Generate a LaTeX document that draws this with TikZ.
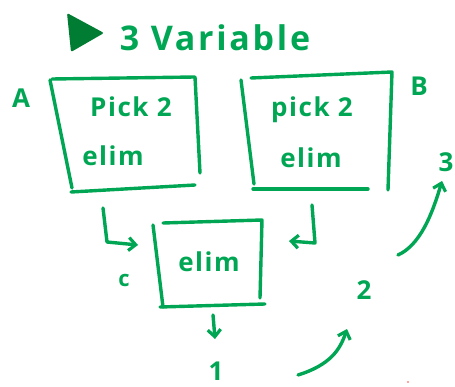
\documentclass[tikz,border=0pt]{standalone}
\usepackage{fontspec}
\setmainfont{Open Sans}
\usetikzlibrary{arrows.meta}
\definecolor{pen}{RGB}{0,166,84}
\definecolor{penDark}{RGB}{0,125,50}
\begin{document}
\begin{tikzpicture}[x=1pt,y=-1pt,
  ink/.style={draw=pen,line width=3.4pt,line cap=round,line join=round},
  inkarrow/.style={ink,-{Straight Barb[length=7pt,width=13pt,line width=3.2pt]}},
  hand/.style={text=pen,inner sep=0pt,anchor=base},
  big/.style={hand,font=\fontsize{34}{34}\selectfont\bfseries\addfontfeature{LetterSpace=8}},
  mid/.style={hand,font=\fontsize{26}{26}\selectfont\bfseries\addfontfeature{LetterSpace=6}},
  small/.style={hand,font=\fontsize{22}{22}\selectfont\bfseries}]
\useasboundingbox (0,0) rectangle (455,387);
\fill[white] (0,0) rectangle (455,387);

% heading
\fill[penDark,rounded corners=2pt] (67,13) -- (104,33) -- (71,52) -- cycle;
\node[big] (title) at (215,51) {3 Variable};

% box A
\draw[ink] (50,80) -- (72,188);
\draw[ink] (52,79) -- (195,77) -- (200,173);
\draw[ink] (71,192) -- (195,185);
\node[mid] (labelA) at (21,108) {A};
\node[mid] (pickA) at (131,117) {Pick 2};
\node[mid] (elimA) at (113,166) {elim};

% box B
\draw[ink] (241,80) -- (254,184);
\draw[ink] (251,78) -- (392,72) -- (388,190);
\draw[ink] (253,189) -- (368,189);
\node[mid] (labelB) at (419,96) {B};
\node[mid] (pickB) at (312,117) {pick 2};
\node[mid] (elimB) at (311,168) {elim};

% box C
\draw[ink] (153,225) -- (163,307);
\draw[ink] (163,223) -- (262,220) -- (260,298);
\draw[ink] (160,307) -- (265,304);
\node[mid] (elimC) at (209,272) {elim};
\node[small] (labelC) at (124,287) {c};

% results
\node[mid] (one) at (216,380) {1};
\node[mid] (two) at (364,300) {2};
\node[mid] (three) at (446,172) {3};

% arrows into and out of C
\coordinate (a1) at (103,208);
\coordinate (a1b) at (107,242);
\coordinate (a1e) at (138,245);
\draw[inkarrow] (a1) -- (a1b) -- (a1e);
\coordinate (b1) at (312,205);
\coordinate (b1b) at (315,243);
\coordinate (b1e) at (289,241);
\draw[inkarrow] (b1) -- (b1b) -- (b1e);
\coordinate (c1) at (213,315);
\coordinate (c1e) at (215,339);
\draw[inkarrow] (c1) -- (c1e);

% progress arrows
\coordinate (p1) at (298,375);
\coordinate (p1e) at (347,329);
\draw[inkarrow] (p1) .. controls (330,365) and (340,350) .. (p1e);
\coordinate (p2) at (398,255);
\coordinate (p2e) at (442,181);
\draw[inkarrow] (p2) .. controls (420,245) and (432,215) .. (p2e);

\fill[red!70] (408,382) circle (0.8);
\end{tikzpicture}
\end{document}
